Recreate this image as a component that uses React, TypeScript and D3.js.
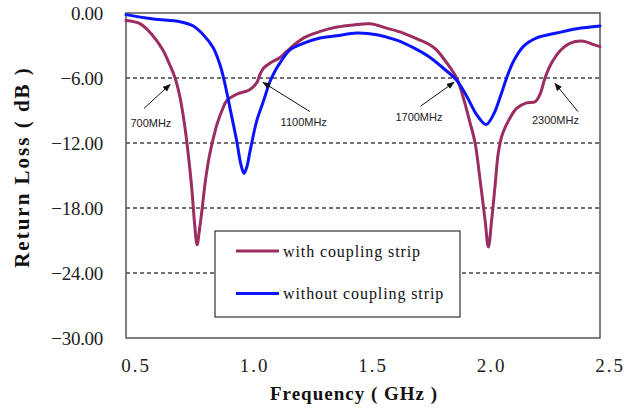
import * as d3 from 'd3';

const FREQ_WITH = [0.50, 0.56, 0.61, 0.655, 0.685, 0.707, 0.728, 0.749, 0.765, 0.778, 0.79, 0.80, 0.81, 0.82, 0.835, 0.85, 0.868, 0.885, 0.905, 0.925, 0.967, 1.02, 1.05, 1.065, 1.08, 1.11, 1.15, 1.18, 1.25, 1.32, 1.39, 1.46, 1.53, 1.60, 1.67, 1.74, 1.78, 1.81, 1.85, 1.895, 1.923, 1.95, 1.973, 1.994, 2.015, 2.029, 2.043, 2.057, 2.071, 2.088, 2.12, 2.148, 2.19, 2.226, 2.247, 2.268, 2.296, 2.331, 2.373, 2.43, 2.47, 2.50];
const DB_WITH = [-0.7, -1.0, -2.0, -3.4, -4.8, -6.0, -7.8, -10.6, -13.5, -16.3, -19.6, -21.4, -20.0, -18.3, -15.5, -13.4, -11.6, -10.2, -9.0, -8.1, -7.5, -7.1, -6.5, -5.7, -5.1, -4.6, -4.1, -3.5, -2.3, -1.7, -1.3, -1.1, -1.0, -1.4, -1.85, -2.5, -2.9, -3.4, -4.5, -6.0, -7.8, -10.0, -12.0, -15.4, -19.1, -21.6, -19.1, -16.0, -12.9, -11.2, -9.7, -8.8, -8.3, -8.2, -7.5, -6.0, -4.6, -3.5, -2.8, -2.6, -2.9, -3.1];

const FREQ_WITHOUT = [0.50, 0.615, 0.728, 0.784, 0.826, 0.868, 0.897, 0.918, 0.939, 0.967, 0.985, 0.998, 1.01, 1.023, 1.051, 1.079, 1.108, 1.13, 1.15, 1.192, 1.248, 1.319, 1.389, 1.473, 1.558, 1.642, 1.712, 1.783, 1.839, 1.895, 1.938, 1.98, 2.019, 2.05, 2.078, 2.106, 2.134, 2.176, 2.233, 2.317, 2.402, 2.50];
const DB_WITHOUT = [-0.15, -0.55, -0.8, -1.2, -2.0, -3.2, -4.8, -6.6, -8.8, -11.8, -14.0, -14.8, -14.2, -12.8, -10.0, -8.2, -6.3, -5.3, -4.6, -3.4, -2.8, -2.3, -2.1, -1.85, -2.0, -2.5, -3.2, -4.1, -5.1, -6.2, -7.7, -9.4, -10.3, -9.4, -7.8, -6.0, -4.5, -3.1, -2.3, -1.85, -1.45, -1.2];

const X_TICKS = [0.5, 1.0, 1.5, 2.0, 2.5];
const Y_TICKS = [0, -6, -12, -18, -24, -30];
const GRID_TICKS = [-6, -12, -18, -24];

const SERIES_NAMES = ['with coupling strip', 'without coupling strip'];
const SERIES_COLORS = ['#9b2d62', '#0a14ff'];

// annotations: label, arrow tip, arrow tail, text anchor (freq, dB)
const NOTE_LABELS = ['700MHz', '1100MHz', '1700MHz', '2300MHz'];
const NOTE_TIP = [[0.686, -6.6], [1.078, -6.4], [1.884, -6.4], [2.31, -6.5]];
const NOTE_TAIL = [[0.576, -8.8], [1.276, -9.1], [1.743, -8.6], [2.407, -9.1]];
const NOTE_TEXT = [[0.605, -10.5], [1.25, -10.4], [1.736, -10.0], [2.312, -10.2]];

const W = 627;
const H = 414;
const PLOT = { left: 126, right: 600, top: 13, bottom: 338 };

export default function App() {
  const x = d3.scaleLinear().domain([0.5, 2.5]).range([PLOT.left, PLOT.right]);
  const y = d3.scaleLinear().domain([-30, 0]).range([PLOT.bottom, PLOT.top]);

  const line = d3.line<[number, number]>()
    .x((d) => x(d[0]))
    .y((d) => y(d[1]))
    .curve(d3.curveCatmullRom.alpha(0.5));

  const series = [
    FREQ_WITH.map((f, i) => [f, DB_WITH[i]] as [number, number]),
    FREQ_WITHOUT.map((f, i) => [f, DB_WITHOUT[i]] as [number, number]),
  ];

  const serif = '"Liberation Serif", "DejaVu Serif", serif';
  const sans = '"Liberation Sans", Arial, sans-serif';

  const legend = { x: 215, y: 231, w: 245, h: 86 };

  return (
    <svg
      width={W}
      height={H}
      style={{ position: 'absolute', left: 0, top: 0, background: '#fff' }}
    >
      <defs>
        <marker id="arr" viewBox="0 0 10 10" refX="9" refY="5" markerWidth="8" markerHeight="8" orient="auto">
          <path d="M0,1 L10,5 L0,9 Z" fill="#111" />
        </marker>
      </defs>

      {/* gridlines */}
      {GRID_TICKS.map((t) => (
        <line key={t} x1={PLOT.left} x2={PLOT.right} y1={y(t)} y2={y(t)}
          stroke="#444" strokeWidth={1.3} strokeDasharray="4,3" />
      ))}

      {/* plot frame */}
      <rect x={PLOT.left} y={PLOT.top} width={PLOT.right - PLOT.left} height={PLOT.bottom - PLOT.top}
        fill="none" stroke="#555" strokeWidth={1.5} />

      {/* curves */}
      {series.map((s, i) => (
        <path key={i} d={line(s) || ''} fill="none" stroke={SERIES_COLORS[i]} strokeWidth={3}
          strokeLinejoin="round" strokeLinecap="round" />
      ))}

      {/* annotations */}
      {NOTE_LABELS.map((lab, i) => (
        <g key={lab}>
          <line x1={x(NOTE_TAIL[i][0])} y1={y(NOTE_TAIL[i][1])} x2={x(NOTE_TIP[i][0])} y2={y(NOTE_TIP[i][1])}
            stroke="#111" strokeWidth={1} markerEnd="url(#arr)" />
          <text x={x(NOTE_TEXT[i][0])} y={y(NOTE_TEXT[i][1])} textAnchor="middle"
            fontFamily={sans} fontSize={11} fill="#222">{lab}</text>
        </g>
      ))}

      {/* legend */}
      <rect x={legend.x} y={legend.y} width={legend.w} height={legend.h} fill="#fff" stroke="#333" strokeWidth={1.2} />
      {SERIES_NAMES.map((name, i) => (
        <g key={name}>
          <line x1={legend.x + 21} x2={legend.x + 64} y1={legend.y + 20 + i * 42.5} y2={legend.y + 20 + i * 42.5}
            stroke={SERIES_COLORS[i]} strokeWidth={3} />
          <text x={legend.x + 68} y={legend.y + 25.5 + i * 42.5} fontFamily={serif} fontSize={16}
            letterSpacing={0.9} fill="#111">{name}</text>
        </g>
      ))}

      {/* y tick labels */}
      {Y_TICKS.map((t) => (
        <text key={t} x={103} y={y(t) + 6.5} textAnchor="end" fontFamily={serif} fontSize={19}
          letterSpacing={-0.3} fill="#222">{d3.format('.2f')(t)}</text>
      ))}

      {/* x tick labels */}
      {X_TICKS.map((t) => (
        <text key={t} x={x(t) + 10} y={372} textAnchor="middle" fontFamily={serif} fontSize={19}
          letterSpacing={2} fill="#222">{d3.format('.1f')(t)}</text>
      ))}

      {/* axis titles */}
      <text x={354} y={400} textAnchor="middle" fontFamily={serif} fontSize={19} fontWeight="bold"
        letterSpacing={1} fill="#111">Frequency ( GHz )</text>
      <text transform={`translate(29,${167}) rotate(-90)`} textAnchor="middle" fontFamily={serif} fontSize={21}
        fontWeight="bold" letterSpacing={2} fill="#111">Return Loss ( dB )</text>
    </svg>
  );
}
